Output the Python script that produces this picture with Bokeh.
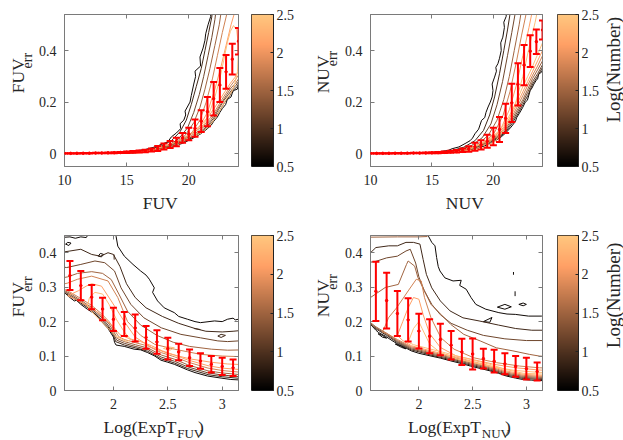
import numpy as np
from math import pi
from bokeh.plotting import figure
from bokeh.layouts import row, column
from bokeh.models import (Range1d, FixedTicker, LinearAxis, NumeralTickFormatter,
                          ColumnDataSource, LinearColorMapper, Whisker, TeeHead)
from bokeh.core.properties import value
from bokeh.transform import linear_cmap
from bokeh.embed import file_html
from bokeh.resources import INLINE

# ---------------- data ----------------
LEVELS = [0.6, 0.9, 1.2, 1.5, 1.8, 2.1, 2.4]
CBAR_TICKS = [0.5, 1, 1.5, 2, 2.5]

MAG_BIN = [10, 10.5, 11, 11.5, 12, 12.5, 13, 13.5, 14, 14.5, 15, 15.5, 16, 16.5, 17,
           17.5, 18, 18.5, 19, 19.5, 20, 20.5, 21, 21.5, 22, 22.5, 23, 23.5, 24]
FUV_MEAN = [0.001, 0.001, 0.0012, 0.0014, 0.0016, 0.002, 0.0024, 0.003, 0.0036, 0.0044,
            0.0055, 0.0068, 0.0085, 0.0105, 0.014, 0.02, 0.0275, 0.0355, 0.0455, 0.061,
            0.076, 0.0985, 0.126, 0.163, 0.213, 0.266, 0.3175, 0.3665, 0.4365]
FUV_STD = [0.0005, 0.0005, 0.0006, 0.0007, 0.0008, 0.001, 0.0012, 0.0015, 0.0018, 0.0022,
           0.0027, 0.0033, 0.004, 0.005, 0.006, 0.01, 0.0115, 0.0135, 0.0165, 0.019,
           0.024, 0.0335, 0.042, 0.057, 0.065, 0.066, 0.0655, 0.0595, 0.0515]
NUV_MEAN = [0.001, 0.001, 0.0011, 0.0012, 0.0014, 0.0016, 0.0018, 0.002, 0.002, 0.0025,
            0.003, 0.004, 0.005, 0.007, 0.009, 0.013, 0.018, 0.0265, 0.034, 0.048,
            0.066, 0.0935, 0.137, 0.197, 0.269, 0.3435, 0.3975, 0.4345, 0.48]
NUV_STD = [0.0005, 0.0005, 0.0005, 0.0006, 0.0007, 0.0008, 0.0009, 0.001, 0.001, 0.0015,
           0.002, 0.0025, 0.003, 0.004, 0.005, 0.007, 0.011, 0.0155, 0.018, 0.025,
           0.034, 0.0485, 0.057, 0.074, 0.082, 0.0785, 0.0615, 0.0475, 0.037]

EXPT_BIN = [1.6, 1.7, 1.8, 1.9, 2.0, 2.1, 2.2, 2.3, 2.4, 2.5, 2.6, 2.7, 2.8, 2.9, 3.0, 3.1]
EXPF_MEAN = [0.334, 0.3045, 0.271, 0.2365, 0.2065, 0.193, 0.1815, 0.154, 0.141, 0.1215,
             0.112, 0.095, 0.0855, 0.076, 0.07, 0.066]
EXPF_STD = [0.042, 0.0425, 0.035, 0.0325, 0.0335, 0.035, 0.0395, 0.033, 0.034, 0.0315,
            0.024, 0.024, 0.0225, 0.024, 0.025, 0.024]
EXPN_MEAN = [0.288, 0.261, 0.2235, 0.205, 0.1725, 0.1575, 0.148, 0.1315, 0.112, 0.106,
             0.0925, 0.085, 0.0775, 0.07, 0.0635, 0.055]
EXPN_STD = [0.086, 0.081, 0.0655, 0.063, 0.0505, 0.0495, 0.046, 0.0415, 0.038, 0.045,
            0.0285, 0.033, 0.0305, 0.03, 0.0315, 0.026]

# contour lines: (level index, [(x, y), ...])
FUV_CONTOURS = [
    (0, [(13.3, 0.002), (14.5, 0.006), (15.5, 0.009), (16.5, 0.016), (17.2, 0.025), (17.6, 0.032),
         (18.0, 0.04), (18.3, 0.045), (18.6, 0.065), (19.0, 0.08), (19.35, 0.097), (19.3, 0.116),
         (19.6, 0.13), (19.75, 0.15), (19.7, 0.165), (20.1, 0.2), (20.2, 0.225), (20.4, 0.27),
         (20.55, 0.30), (20.5, 0.32), (20.95, 0.34), (20.9, 0.375), (21.15, 0.41), (21.3, 0.44),
         (21.36, 0.465), (21.55, 0.5), (21.76, 0.532), (21.8, 0.58)]),
    (0, [(24.6, 0.27), (24.0, 0.265), (23.9, 0.25), (23.6, 0.245), (23.5, 0.235), (23.4, 0.22),
         (23.1, 0.21), (22.96, 0.19), (22.7, 0.175), (22.5, 0.16), (22.3, 0.142), (22.0, 0.125),
         (21.8, 0.11), (21.5, 0.097), (21.0, 0.078), (20.5, 0.064), (20.15, 0.055), (19.5, 0.04),
         (18.55, 0.025), (17.5, 0.013), (16.5, 0.007), (15.5, 0.003), (14.5, 0.001), (13.3, 0.002)]),
    (1, [(13.8, 0.002), (15.5, 0.008), (16.8, 0.016), (17.8, 0.03), (18.6, 0.05), (19.3, 0.085),
         (19.8, 0.13), (20.2, 0.19), (20.6, 0.26), (21.0, 0.33), (21.3, 0.4), (21.6, 0.47),
         (21.85, 0.53), (21.95, 0.58)]),
    (1, [(24.6, 0.28), (24.0, 0.272), (23.9, 0.26), (23.5, 0.243), (23.3, 0.225), (22.9, 0.2),
         (22.5, 0.168), (22.0, 0.13), (21.5, 0.102), (21.0, 0.082), (20.2, 0.06), (19.5, 0.044),
         (18.5, 0.028), (17.5, 0.015), (16.5, 0.008), (15.0, 0.003), (13.8, 0.002)]),
    (2, [(14.3, 0.002), (16.0, 0.008), (17.3, 0.017), (18.4, 0.033), (19.2, 0.058), (19.9, 0.1),
         (20.4, 0.16), (20.85, 0.23), (21.2, 0.3), (21.55, 0.38), (21.85, 0.45), (22.1, 0.52),
         (22.25, 0.58)]),
    (2, [(24.6, 0.29), (24.0, 0.28), (23.8, 0.265), (23.5, 0.25), (23.2, 0.23), (22.8, 0.205),
         (22.4, 0.172), (22.0, 0.138), (21.5, 0.108), (21.0, 0.087), (20.3, 0.066), (19.5, 0.048),
         (18.5, 0.03), (17.5, 0.017), (16.5, 0.009), (15.2, 0.003), (14.3, 0.002)]),
    (3, [(14.8, 0.002), (16.5, 0.009), (17.8, 0.02), (18.9, 0.04), (19.7, 0.07), (20.4, 0.12),
         (20.9, 0.18), (21.3, 0.25), (21.7, 0.33), (22.1, 0.42), (22.45, 0.5), (22.7, 0.58)]),
    (3, [(24.6, 0.30), (24.0, 0.29), (23.8, 0.275), (23.4, 0.255), (23.0, 0.225), (22.6, 0.195),
         (22.2, 0.163), (21.8, 0.133), (21.3, 0.108), (20.8, 0.088), (20.2, 0.07), (19.5, 0.052),
         (18.6, 0.034), (17.6, 0.019), (16.5, 0.01), (15.5, 0.004), (14.8, 0.002)]),
    (4, [(15.3, 0.002), (17.0, 0.01), (18.4, 0.024), (19.4, 0.047), (20.3, 0.085), (20.9, 0.13),
         (21.4, 0.2), (21.9, 0.29), (22.3, 0.38), (22.7, 0.47), (23.1, 0.55), (23.2, 0.58)]),
    (4, [(24.6, 0.32), (24.0, 0.305), (23.8, 0.29), (23.4, 0.265), (23.0, 0.235), (22.6, 0.205),
         (22.2, 0.172), (21.8, 0.142), (21.3, 0.115), (20.7, 0.092), (20.0, 0.07), (19.2, 0.05),
         (18.3, 0.032), (17.3, 0.018), (16.3, 0.008), (15.3, 0.002)]),
    (5, [(15.8, 0.002), (17.5, 0.011), (18.9, 0.028), (20.0, 0.06), (20.8, 0.1), (21.5, 0.16),
         (22.1, 0.25), (22.6, 0.34), (23.0, 0.42), (23.4, 0.5), (23.7, 0.55), (23.9, 0.58)]),
    (5, [(24.6, 0.34), (24.0, 0.32), (23.7, 0.295), (23.3, 0.27), (22.9, 0.24), (22.5, 0.21),
         (22.1, 0.18), (21.6, 0.145), (21.0, 0.112), (20.3, 0.083), (19.5, 0.058), (18.6, 0.038),
         (17.6, 0.022), (16.6, 0.01), (15.8, 0.002)]),
    (6, [(20.4, 0.065), (21.0, 0.095), (21.6, 0.15), (22.1, 0.22), (22.5, 0.29), (22.8, 0.36),
         (23.1, 0.43), (23.35, 0.475), (23.6, 0.497), (23.85, 0.48), (23.95, 0.44), (23.97, 0.38),
         (23.92, 0.32), (23.7, 0.27), (23.4, 0.235), (23.0, 0.21), (22.6, 0.175), (22.1, 0.135),
         (21.6, 0.105), (21.0, 0.08), (20.4, 0.065)]),
]

NUV_CONTOURS = [
    (0, [(14.5, 0.002), (15.5, 0.007), (16.3, 0.012), (16.64, 0.019), (17.2, 0.026), (17.7, 0.039),
         (18.1, 0.05), (18.3, 0.06), (18.5, 0.077), (18.8, 0.095), (19.04, 0.129), (19.3, 0.14),
         (19.4, 0.16), (19.57, 0.181), (19.75, 0.2), (19.9, 0.22), (19.97, 0.245), (19.9, 0.27),
         (20.1, 0.297), (20.25, 0.32), (20.2, 0.335), (20.37, 0.349), (20.5, 0.37), (20.64, 0.4),
         (20.6, 0.43), (20.77, 0.452), (20.9, 0.49), (20.85, 0.51), (21.04, 0.532), (21.1, 0.58)]),
    (0, [(24.6, 0.33), (24.0, 0.325), (23.9, 0.315), (23.7, 0.31), (23.6, 0.29), (23.5, 0.285),
         (23.3, 0.27), (23.15, 0.255), (23.0, 0.245), (22.77, 0.207), (22.6, 0.2), (22.4, 0.18),
         (22.1, 0.155), (21.9, 0.14), (21.8, 0.125), (21.44, 0.103), (21.0, 0.08), (20.64, 0.065),
         (20.0, 0.045), (19.3, 0.03), (18.5, 0.018), (17.5, 0.009), (16.5, 0.004), (15.5, 0.001),
         (14.5, 0.002)]),
    (1, [(15.0, 0.002), (16.5, 0.01), (17.6, 0.025), (18.5, 0.05), (19.2, 0.09), (19.7, 0.15),
         (20.1, 0.22), (20.5, 0.31), (20.85, 0.4), (21.15, 0.48), (21.35, 0.54), (21.4, 0.58)]),
    (1, [(24.6, 0.345), (24.0, 0.335), (23.6, 0.3), (23.2, 0.27), (22.8, 0.225), (22.4, 0.19),
         (22.0, 0.155), (21.5, 0.115), (21.0, 0.085), (20.5, 0.064), (19.8, 0.045), (19.0, 0.03),
         (18.0, 0.016), (17.0, 0.007), (16.0, 0.003), (15.0, 0.002)]),
    (2, [(15.5, 0.002), (17.0, 0.011), (18.2, 0.03), (19.1, 0.062), (19.8, 0.115), (20.3, 0.19),
         (20.75, 0.28), (21.15, 0.38), (21.5, 0.47), (21.8, 0.55), (21.85, 0.58)]),
    (2, [(24.6, 0.36), (24.0, 0.345), (23.6, 0.31), (23.2, 0.28), (22.8, 0.238), (22.4, 0.2),
         (22.0, 0.165), (21.5, 0.123), (21.0, 0.09), (20.5, 0.068), (19.8, 0.048), (19.0, 0.032),
         (18.0, 0.018), (17.0, 0.008), (16.2, 0.003), (15.5, 0.002)]),
    (3, [(16.0, 0.002), (17.5, 0.012), (18.7, 0.034), (19.6, 0.072), (20.3, 0.13), (20.85, 0.21),
         (21.3, 0.3), (21.7, 0.4), (22.1, 0.5), (22.3, 0.56), (22.35, 0.58)]),
    (3, [(24.6, 0.38), (24.0, 0.36), (23.6, 0.325), (23.2, 0.292), (22.8, 0.25), (22.4, 0.21),
         (22.0, 0.175), (21.5, 0.132), (21.0, 0.097), (20.5, 0.072), (19.8, 0.05), (19.0, 0.034),
         (18.0, 0.02), (17.0, 0.009), (16.0, 0.002)]),
    (4, [(16.5, 0.003), (18.0, 0.014), (19.2, 0.04), (20.1, 0.083), (20.8, 0.15), (21.35, 0.24),
         (21.85, 0.35), (22.3, 0.46), (22.7, 0.55), (22.8, 0.58)]),
    (4, [(24.6, 0.40), (24.0, 0.38), (23.6, 0.34), (23.2, 0.305), (22.8, 0.265), (22.4, 0.225),
         (22.0, 0.187), (21.5, 0.142), (21.0, 0.105), (20.5, 0.077), (19.8, 0.054), (19.0, 0.036),
         (18.0, 0.021), (17.3, 0.01), (16.5, 0.003)]),
    (5, [(17.0, 0.003), (18.5, 0.016), (19.7, 0.045), (20.6, 0.095), (21.3, 0.17), (21.9, 0.27),
         (22.4, 0.38), (22.9, 0.49), (23.2, 0.56), (23.3, 0.58)]),
    (5, [(24.6, 0.42), (24.0, 0.4), (23.6, 0.36), (23.2, 0.32), (22.8, 0.28), (22.4, 0.24),
         (22.0, 0.2), (21.5, 0.153), (21.0, 0.113), (20.5, 0.083), (19.8, 0.058), (19.0, 0.038),
         (18.0, 0.022), (17.0, 0.003)]),
    (6, [(17.5, 0.004), (19.0, 0.018), (20.2, 0.05), (21.1, 0.11), (21.8, 0.195), (22.4, 0.3),
         (22.9, 0.41), (23.4, 0.51), (23.7, 0.58)]),
    (6, [(24.6, 0.45), (24.0, 0.43), (23.6, 0.385), (23.2, 0.34), (22.8, 0.3), (22.4, 0.26),
         (22.0, 0.215), (21.5, 0.165), (21.0, 0.122), (20.5, 0.09), (19.8, 0.062), (19.0, 0.04),
         (18.2, 0.02), (17.5, 0.004)]),
]

EXPF_CONTOURS = [
    (0, [(1.5, 0.444), (1.6, 0.446), (1.65, 0.442), (1.7, 0.446), (1.75, 0.444), (1.8, 0.47),
         (1.9, 0.5), (2.0, 0.48), (2.024, 0.448), (2.04, 0.419), (2.10, 0.39), (2.18, 0.366),
         (2.25, 0.347), (2.3, 0.335), (2.33, 0.323), (2.376, 0.298), (2.36, 0.285), (2.406, 0.26),
         (2.467, 0.24), (2.56, 0.226), (2.6, 0.215), (2.68, 0.207), (2.75, 0.2), (2.8, 0.197),
         (2.93, 0.202), (3.0, 0.2), (3.05, 0.207), (3.1, 0.21), (3.12, 0.205), (3.2, 0.21)]),
    (0, [(1.5, 0.29), (1.55, 0.284), (1.6, 0.27), (1.64, 0.26), (1.66, 0.262), (1.7, 0.25),
         (1.76, 0.236), (1.8, 0.228), (1.84, 0.22), (1.886, 0.202), (1.95, 0.18), (2.0, 0.155),
         (2.01, 0.14), (2.024, 0.132), (2.1, 0.128), (2.19, 0.12), (2.25, 0.118), (2.315, 0.11),
         (2.38, 0.1), (2.437, 0.088), (2.5, 0.082), (2.56, 0.076), (2.62, 0.068), (2.68, 0.06),
         (2.75, 0.052), (2.865, 0.042), (2.99, 0.036), (3.08, 0.032), (3.2, 0.03)]),
    (0, [(1.86, 0.39), (1.88, 0.398), (1.91, 0.395), (1.89, 0.388), (1.86, 0.39)]),
    (0, [(1.56, 0.425), (1.58, 0.43), (1.61, 0.428), (1.59, 0.421), (1.56, 0.425)]),
    (1, [(1.5, 0.40), (1.6, 0.405), (1.7, 0.41), (1.8, 0.395), (1.88, 0.39), (1.95, 0.40),
         (2.0, 0.395), (2.06, 0.36), (2.12, 0.31), (2.2, 0.27), (2.3, 0.24), (2.45, 0.215),
         (2.6, 0.195), (2.75, 0.18), (2.85, 0.172), (3.0, 0.17), (3.1, 0.172), (3.2, 0.175)]),
    (1, [(1.5, 0.293), (1.6, 0.274), (1.7, 0.254), (1.8, 0.232), (1.886, 0.207), (1.95, 0.185),
         (2.0, 0.16), (2.02, 0.142), (2.1, 0.132), (2.2, 0.124), (2.315, 0.114), (2.44, 0.092),
         (2.56, 0.08), (2.68, 0.064), (2.87, 0.046), (3.0, 0.04), (3.2, 0.034)]),
    (1, [(2.005, 0.395), (2.007, 0.38)]),
    (1, [(2.74, 0.18), (2.8, 0.177)]),
    (1, [(2.96, 0.158), (2.99, 0.163), (3.03, 0.16), (2.99, 0.154), (2.96, 0.158)]),
    (2, [(1.5, 0.36), (1.57, 0.357), (1.7, 0.366), (1.83, 0.376), (1.92, 0.371), (2.01, 0.347),
         (2.07, 0.298), (2.16, 0.25), (2.28, 0.211), (2.44, 0.182), (2.62, 0.163), (2.8, 0.153),
         (2.96, 0.144), (3.05, 0.142), (3.2, 0.145)]),
    (2, [(1.5, 0.296), (1.6, 0.278), (1.7, 0.258), (1.8, 0.236), (1.89, 0.212), (1.95, 0.19),
         (2.0, 0.165), (2.03, 0.146), (2.1, 0.137), (2.2, 0.128), (2.32, 0.118), (2.44, 0.097),
         (2.56, 0.085), (2.68, 0.069), (2.87, 0.051), (3.0, 0.045), (3.2, 0.039)]),
    (3, [(1.5, 0.325), (1.58, 0.33), (1.67, 0.34), (1.8, 0.345), (1.9, 0.34), (1.98, 0.322),
         (2.05, 0.28), (2.13, 0.23), (2.25, 0.19), (2.4, 0.16), (2.55, 0.14), (2.7, 0.128),
         (2.9, 0.12), (3.05, 0.117), (3.2, 0.118)]),
    (3, [(1.5, 0.298), (1.6, 0.282), (1.7, 0.262), (1.8, 0.241), (1.89, 0.217), (1.96, 0.193),
         (2.0, 0.172), (2.04, 0.15), (2.1, 0.142), (2.2, 0.133), (2.32, 0.123), (2.44, 0.103),
         (2.56, 0.091), (2.68, 0.075), (2.87, 0.057), (3.0, 0.051), (3.2, 0.045)]),
    (4, [(1.5, 0.306), (1.58, 0.312), (1.67, 0.323), (1.8, 0.332), (1.95, 0.318), (2.04, 0.27),
         (2.13, 0.2), (2.25, 0.16), (2.38, 0.134), (2.56, 0.12), (2.8, 0.105), (3.0, 0.1),
         (3.2, 0.098)]),
    (4, [(1.5, 0.301), (1.6, 0.286), (1.7, 0.267), (1.8, 0.247), (1.89, 0.223), (1.96, 0.2),
         (2.0, 0.18), (2.05, 0.156), (2.1, 0.148), (2.2, 0.139), (2.32, 0.129), (2.44, 0.11),
         (2.56, 0.098), (2.68, 0.083), (2.87, 0.065), (3.0, 0.058), (3.2, 0.052)]),
    (5, [(1.58, 0.275), (1.68, 0.29), (1.75, 0.303), (1.8, 0.31), (1.89, 0.303), (1.98, 0.26),
         (2.1, 0.2), (2.2, 0.155), (2.35, 0.125), (2.5, 0.108), (2.7, 0.092), (2.9, 0.082),
         (3.05, 0.077), (3.2, 0.075)]),
    (5, [(1.58, 0.275), (1.65, 0.265), (1.75, 0.248), (1.85, 0.228), (1.93, 0.205), (2.0, 0.185),
         (2.06, 0.162), (2.15, 0.15), (2.25, 0.142), (2.35, 0.13), (2.45, 0.115), (2.56, 0.103),
         (2.68, 0.089), (2.87, 0.072), (3.0, 0.065), (3.2, 0.06)]),
    (6, [(1.76, 0.245), (1.78, 0.27), (1.83, 0.285), (1.9, 0.28), (1.96, 0.25), (2.03, 0.205),
         (2.1, 0.17), (2.16, 0.148), (2.12, 0.142), (2.02, 0.158), (1.92, 0.19), (1.82, 0.222),
         (1.76, 0.245)]),
    (6, [(2.46, 0.122), (2.5, 0.127), (2.56, 0.124), (2.52, 0.117), (2.46, 0.122)]),
]

EXPN_CONTOURS = [
    (0, [(2.07, 0.47), (2.089, 0.448), (2.12, 0.43), (2.15, 0.42), (2.165, 0.386), (2.18, 0.36),
         (2.196, 0.347), (2.242, 0.327), (2.318, 0.318), (2.394, 0.32), (2.38, 0.305), (2.44, 0.294),
         (2.485, 0.27), (2.53, 0.25), (2.622, 0.236), (2.744, 0.226), (2.82, 0.222), (2.897, 0.221),
         (3.02, 0.216), (3.14, 0.216), (3.2, 0.216)]),
    (0, [(1.5, 0.2), (1.55, 0.192), (1.6, 0.175), (1.626, 0.168), (1.687, 0.158), (1.75, 0.145),
         (1.809, 0.134), (1.87, 0.125), (1.93, 0.115), (2.0, 0.108), (2.113, 0.1), (2.2, 0.094),
         (2.296, 0.086), (2.4, 0.078), (2.479, 0.071), (2.57, 0.064), (2.662, 0.057), (2.74, 0.05),
         (2.814, 0.042), (2.9, 0.036), (2.966, 0.032), (3.05, 0.03), (3.2, 0.028)]),
    (0, [(2.73, 0.242), (2.8, 0.25), (2.86, 0.243), (2.8, 0.236), (2.73, 0.242)]),
    (0, [(2.6, 0.2), (2.68, 0.212), (2.66, 0.198), (2.6, 0.2)]),
    (0, [(2.93, 0.25), (2.97, 0.254), (3.0, 0.25), (2.97, 0.246), (2.93, 0.25)]),
    (0, [(2.88, 0.344), (2.88, 0.336)]),
    (0, [(2.895, 0.288), (2.895, 0.274)]),
    (0, [(1.62, 0.165), (1.66, 0.155), (1.7, 0.152), (1.66, 0.16), (1.62, 0.165)]),
    (0, [(1.78, 0.135), (1.84, 0.125), (1.88, 0.121), (1.83, 0.13), (1.78, 0.135)]),
    (1, [(1.5, 0.40), (1.55, 0.40), (1.6, 0.415), (1.72, 0.42), (1.8, 0.42), (1.88, 0.43),
         (1.95, 0.43), (2.01, 0.425), (2.04, 0.38), (2.07, 0.337), (2.12, 0.298), (2.2, 0.26),
         (2.29, 0.231), (2.41, 0.211), (2.56, 0.202), (2.74, 0.19), (2.9, 0.18), (3.05, 0.175),
         (3.2, 0.175)]),
    (1, [(1.5, 0.203), (1.6, 0.179), (1.7, 0.16), (1.8, 0.139), (1.93, 0.118), (2.11, 0.103),
         (2.3, 0.089), (2.48, 0.074), (2.66, 0.06), (2.81, 0.045), (2.97, 0.035), (3.2, 0.031)]),
    (2, [(1.5, 0.37), (1.6, 0.375), (1.7, 0.385), (1.8, 0.39), (1.88, 0.405), (1.92, 0.41),
         (1.97, 0.37), (2.0, 0.33), (2.05, 0.29), (2.12, 0.25), (2.2, 0.22), (2.3, 0.195),
         (2.45, 0.175), (2.6, 0.16), (2.8, 0.15), (3.0, 0.145), (3.2, 0.145)]),
    (2, [(1.5, 0.206), (1.6, 0.182), (1.7, 0.163), (1.8, 0.142), (1.93, 0.121), (2.11, 0.106),
         (2.3, 0.092), (2.48, 0.077), (2.66, 0.063), (2.81, 0.048), (2.97, 0.038), (3.2, 0.034)]),
    (3, [(1.5, 0.445), (1.8, 0.446), (2.0, 0.446), (2.08, 0.447)]),
    (3, [(1.5, 0.27), (1.55, 0.27), (1.687, 0.299), (1.809, 0.308), (1.885, 0.366), (1.9, 0.376),
         (1.961, 0.361), (1.991, 0.328), (2.052, 0.289), (2.113, 0.25), (2.205, 0.221),
         (2.296, 0.192), (2.418, 0.163), (2.57, 0.144), (2.72, 0.124), (2.875, 0.115),
         (3.027, 0.105), (3.12, 0.1), (3.2, 0.098)]),
    (3, [(1.5, 0.209), (1.6, 0.185), (1.7, 0.166), (1.8, 0.145), (1.93, 0.124), (2.11, 0.109),
         (2.3, 0.095), (2.48, 0.08), (2.66, 0.066), (2.81, 0.051), (2.97, 0.041), (3.2, 0.037)]),
    (4, [(1.66, 0.17), (1.69, 0.19), (1.717, 0.211), (1.793, 0.24), (1.9, 0.289), (1.976, 0.323),
         (2.022, 0.318), (2.052, 0.27), (2.113, 0.211), (2.205, 0.153), (2.327, 0.12),
         (2.51, 0.095), (2.72, 0.081), (2.936, 0.071), (3.12, 0.066), (3.2, 0.065)]),
    (4, [(1.66, 0.17), (1.7, 0.166), (1.8, 0.148), (1.93, 0.127), (2.11, 0.112), (2.3, 0.098),
         (2.48, 0.083), (2.66, 0.069), (2.81, 0.054), (2.97, 0.044), (3.2, 0.04)]),
    (5, [(1.8, 0.16), (1.85, 0.2), (1.9, 0.24), (1.95, 0.27), (2.0, 0.265), (2.04, 0.22),
         (2.1, 0.165), (2.2, 0.125), (2.35, 0.1), (2.5, 0.09), (2.7, 0.076), (2.9, 0.066),
         (3.1, 0.06), (3.2, 0.058)]),
    (5, [(1.8, 0.16), (1.85, 0.145), (1.93, 0.13), (2.11, 0.115), (2.3, 0.101), (2.48, 0.086),
         (2.66, 0.072), (2.81, 0.057), (2.97, 0.047), (3.2, 0.043)]),
    (6, [(1.9, 0.14), (1.95, 0.18), (2.0, 0.2), (2.03, 0.18), (2.1, 0.135), (2.2, 0.11),
         (2.35, 0.092), (2.5, 0.082), (2.7, 0.068), (2.9, 0.058), (3.1, 0.053), (3.2, 0.052)]),
    (6, [(1.9, 0.14), (1.95, 0.133), (2.11, 0.12), (2.3, 0.105), (2.48, 0.09), (2.66, 0.076),
         (2.81, 0.061), (2.97, 0.05), (3.2, 0.047)]),
]

# ---------------- style ----------------
FONT = "Liberation Serif"
TXT = "#262626"
FRAME = "#7a7a7a"


def copper(n=256):
    cols = []
    for i in range(n):
        t = i / (n - 1)
        r, g, b = min(1.0, 1.25 * t), 0.7812 * t, 0.4975 * t
        cols.append("#%02x%02x%02x" % (round(r * 255), round(g * 255), round(b * 255)))
    return cols


PALETTE = copper()
CLOW, CHIGH = CBAR_TICKS[0], CBAR_TICKS[-1]


def style_axis(ax, ticks, labels=True, standoff=8, tick_in=4):
    ax.ticker = FixedTicker(ticks=ticks)
    ax.formatter = NumeralTickFormatter(format="0.[0]")
    ax.major_tick_in = tick_in
    ax.major_tick_out = 0
    ax.minor_tick_line_color = None
    ax.axis_line_color = FRAME
    ax.major_tick_line_color = FRAME
    ax.major_label_text_font = FONT
    if labels:
        ax.major_label_text_font_size = "14px"
        ax.major_label_text_color = TXT
        ax.major_label_standoff = standoff
    else:
        # mirrored tick-only axis (box on all four sides): no tick labels drawn
        ax.major_label_text_font_size = "1px"
        ax.major_label_text_color = None
        ax.major_label_standoff = 0


def textfig(w, h, items):
    """A blank strip that only holds axis titles; items: (text, x, y, size, angle, align)."""
    t = figure(width=w, height=h, x_range=Range1d(0, w), y_range=Range1d(0, h),
               output_backend="svg", toolbar_location=None, min_border=0,
               x_axis_location=None, y_axis_location=None)
    t.grid.visible = False
    t.outline_line_color = None
    for text, x, y, size, angle, align in items:
        t.text(x=[x], y=[y], text=[text], angle=angle, text_align=align,
               text_baseline="middle", text_font=value(FONT),
               text_font_size=size, text_color=TXT)
    return t


def panel(xr, yr, xt, yt, w, h, ml, mr, mt, mb, contours, xb, mean, std):
    p = figure(width=w, height=h, x_range=Range1d(*xr), y_range=Range1d(*yr),
               output_backend="svg", toolbar_location=None,
               min_border_left=ml, min_border_right=mr, min_border_top=mt, min_border_bottom=mb)
    p.grid.visible = False
    p.outline_line_color = FRAME
    p.border_fill_color = "white"
    style_axis(p.xaxis[0], xt, True, 8)
    style_axis(p.yaxis[0], yt, True, 8)
    top = LinearAxis()
    right = LinearAxis()
    style_axis(top, xt, False)
    style_axis(right, yt, False)
    p.add_layout(top, "above")
    p.add_layout(right, "right")

    src = ColumnDataSource(dict(
        xs=[[q[0] for q in seg] for _, seg in contours],
        ys=[[q[1] for q in seg] for _, seg in contours],
        level=[LEVELS[i] for i, _ in contours]))
    p.multi_line("xs", "ys", source=src, line_width=1,
                 line_color=linear_cmap("level", PALETTE, CLOW, CHIGH))

    es = ColumnDataSource(dict(x=xb, m=mean,
                               lo=[a - b for a, b in zip(mean, std)],
                               hi=[a + b for a, b in zip(mean, std)]))
    wk = Whisker(source=es, base="x", lower="lo", upper="hi", line_color="red", line_width=2,
                 upper_head=TeeHead(size=7, line_color="red", line_width=2),
                 lower_head=TeeHead(size=7, line_color="red", line_width=2))
    wk.level = "annotation"
    p.add_layout(wk)
    p.scatter("x", "m", source=es, size=2.5, color="red")
    return p


def cbar(w, h, ml, mr, mt, mb):
    c = figure(width=w, height=h, x_range=Range1d(0, 1), y_range=Range1d(CLOW, CHIGH),
               output_backend="svg", toolbar_location=None, x_axis_location=None,
               y_axis_location="right",
               min_border_left=ml, min_border_right=mr, min_border_top=mt, min_border_bottom=mb)
    c.grid.visible = False
    mapper = LinearColorMapper(palette=PALETTE, low=CLOW, high=CHIGH)
    grad = np.linspace(CLOW, CHIGH, 256).reshape(256, 1)
    c.image(image=[grad], x=0, y=CLOW, dw=1, dh=CHIGH - CLOW, color_mapper=mapper)
    c.outline_line_color = "#222222"
    style_axis(c.yaxis[0], CBAR_TICKS, True, 3, tick_in=3)
    c.yaxis[0].axis_line_color = "#222222"
    c.yaxis[0].major_tick_line_color = "#222222"
    return c


MAG_RANGE = (10, 24)
ERR_RANGE1 = (-0.05, 0.54)
EXP_RANGE = (1.55, 3.15)
ERR_RANGE2 = (0, 0.45)
A90 = pi / 2

# ---- top row ----
f1 = panel(MAG_RANGE, ERR_RANGE1, [10, 15, 20], [0, 0.2, 0.4], 210, 192, 28, 7, 14, 26,
           FUV_CONTOURS, MAG_BIN, FUV_MEAN, FUV_STD)
f2 = panel(MAG_RANGE, ERR_RANGE1, [10, 15, 20], [0, 0.2, 0.4], 207, 192, 26, 6, 14, 26,
           NUV_CONTOURS, MAG_BIN, NUV_MEAN, NUV_STD)
yl1 = textfig(35, 220, [("FUV", 17.5, 106, "17.5px", A90, "left"),
                        ("err", 27, 142, "14px", A90, "left")])
yl2 = textfig(30, 220, [("NUV", 11, 106, "17.5px", A90, "left"),
                        ("err", 21, 145, "14px", A90, "left")])
xl1 = textfig(210, 28, [("FUV", 115.5, 17.5, "17.5px", 0.0, "center")])
xl2 = textfig(207, 28, [("NUV", 113.5, 17.5, "17.5px", 0.0, "center")])
c1 = cbar(66, 220, 6, 38, 14, 54)
c2 = cbar(55, 220, 9, 25, 14, 54)
cl1 = textfig(20, 220, [("Log(Number)", 10, 140, "19px", A90, "center")])

# ---- bottom row ----
f3 = panel(EXP_RANGE, ERR_RANGE2, [2, 2.5, 3], [0, 0.1, 0.2, 0.3, 0.4], 210, 196, 28, 7, 15, 26,
           EXPF_CONTOURS, EXPT_BIN, EXPF_MEAN, EXPF_STD)
f4 = panel(EXP_RANGE, ERR_RANGE2, [2, 2.5, 3], [0, 0.1, 0.2, 0.3, 0.4], 207, 196, 26, 6, 15, 26,
           EXPN_CONTOURS, EXPT_BIN, EXPN_MEAN, EXPN_STD)
yl3 = textfig(35, 220, [("FUV", 17.5, 104, "17.5px", A90, "left"),
                        ("err", 27, 140, "14px", A90, "left")])
yl4 = textfig(30, 220, [("NUV", 11, 104, "17.5px", A90, "left"),
                        ("err", 21, 143, "14px", A90, "left")])
xl3 = textfig(210, 24, [("Log(ExpT", 135, 14, "17.5px", 0.0, "right"),
                        ("FUV", 136, 7.5, "13px", 0.0, "left"),
                        (")", 161, 14, "17.5px", 0.0, "left")])
xl4 = textfig(207, 24, [("Log(ExpT", 133, 14, "17.5px", 0.0, "right"),
                        ("NUV", 134, 7.5, "13px", 0.0, "left"),
                        (")", 162, 14, "17.5px", 0.0, "left")])
c3 = cbar(66, 220, 6, 38, 15, 50)
c4 = cbar(55, 220, 9, 25, 15, 50)
cl2 = textfig(20, 220, [("Log(Number)", 10, 135, "19px", A90, "center")])

layout = column(
    row(yl1, column(f1, xl1), c1, yl2, column(f2, xl2), c2, cl1),
    row(yl3, column(f3, xl3), c3, yl4, column(f4, xl4), c4, cl2),
)
open("out.html", "w").write(file_html(layout, INLINE))
